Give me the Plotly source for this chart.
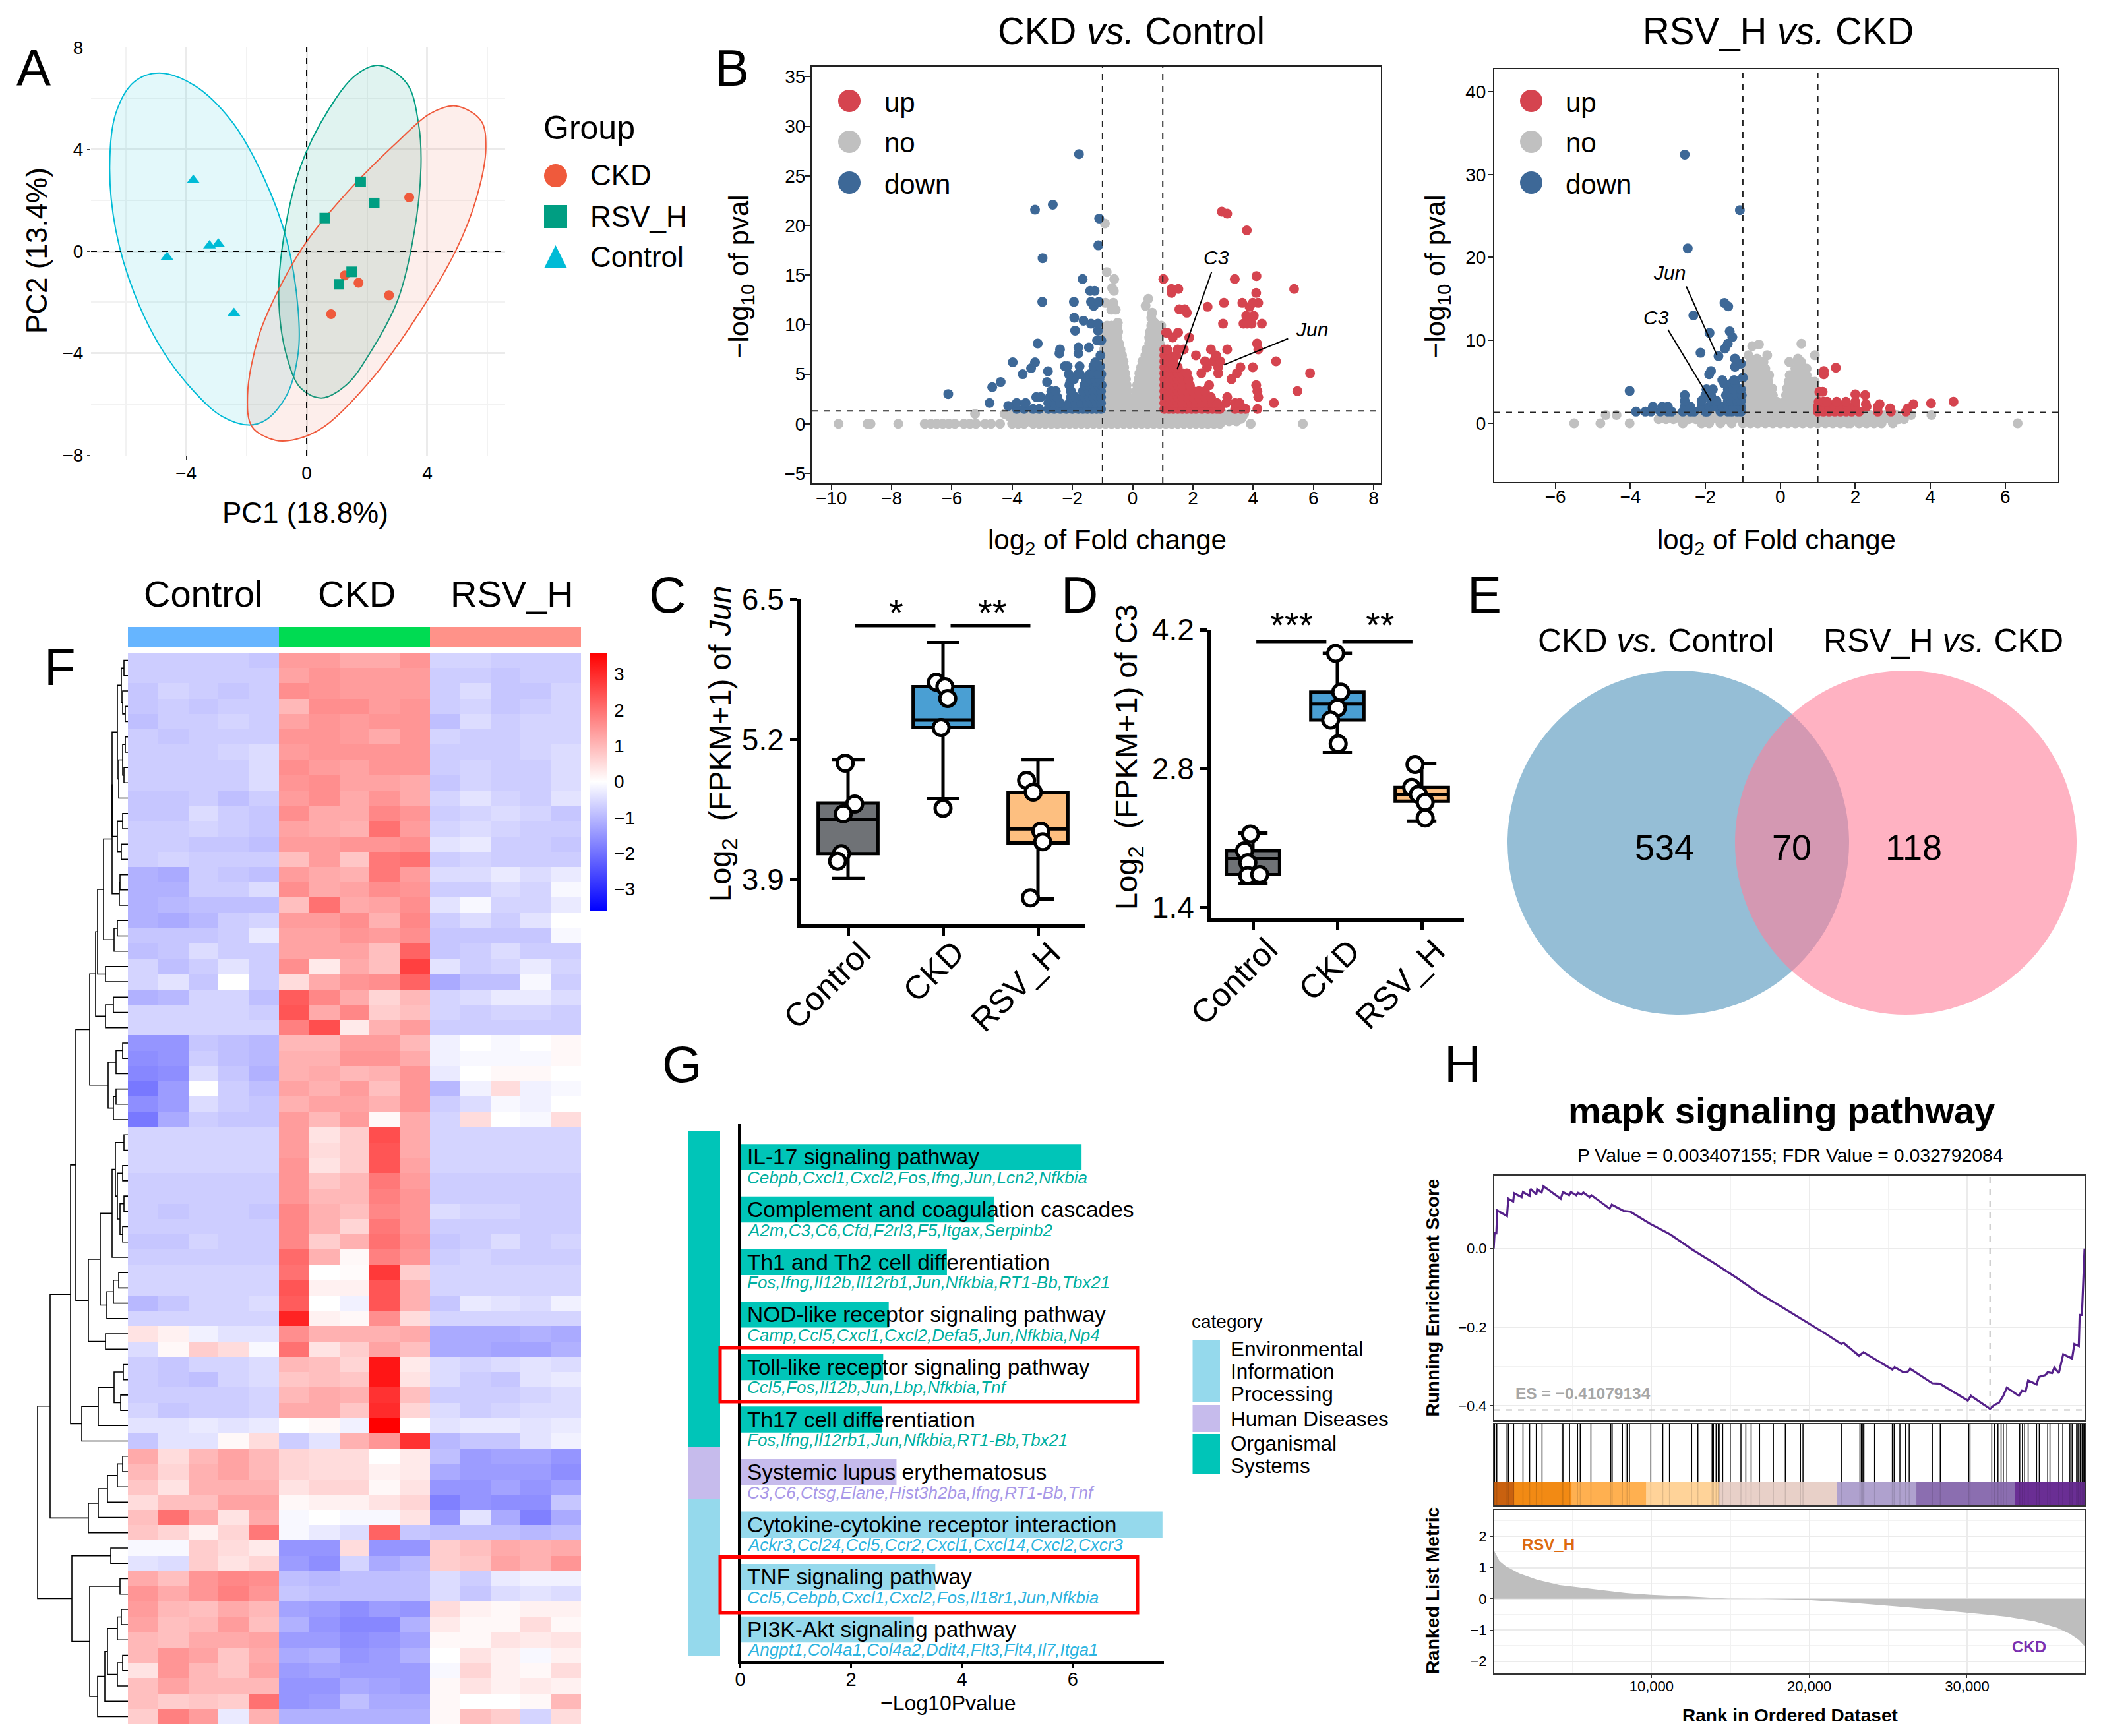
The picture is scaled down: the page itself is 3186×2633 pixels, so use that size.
import plotly.graph_objects as go

W, H = 3186, 2633
FONT = "Liberation Sans"

# ---------- Panel A: PCA ----------
ckd_pc = ([3.40, 1.26, 1.72, 2.73, 0.81], [2.11, -0.95, -1.24, -1.73, -2.47])
rsv_pc = ([1.79, 2.24, 0.60, 1.49, 1.07], [2.72, 1.89, 1.30, -0.81, -1.30])
ctl_pc = ([-3.76, -3.22, -2.93, -4.63, -2.41], [2.79, 0.22, 0.29, -0.23, -2.43])
ell_ctl_x = [-4.88, -3.73, -2.5, -1.43, -0.66, -0.28, -0.28, -0.66, -1.35, -1.93, -2.81, -3.73, -4.8, -5.72, -6.33, -6.53, -6.33, -5.72, -4.88]
ell_ctl_y = [6.99, 6.51, 5.12, 2.91, 0.43, -2.33, -3.99, -5.65, -6.62, -6.82, -6.48, -5.51, -3.85, -1.64, 0.84, 3.33, 5.4, 6.64, 6.99]
ell_rsv_x = [2.41, 3.33, 3.71, 3.79, 3.56, 3.02, 2.10, 1.33, 0.49, -0.2, -0.66, -0.92, -0.81, -0.2, 0.72, 1.64, 2.41]
ell_rsv_y = [7.29, 6.57, 4.99, 3.33, 0.70, -1.92, -3.99, -5.23, -5.76, -5.37, -4.13, -2.06, 0.15, 3.33, 5.54, 6.92, 7.29]
ell_ckd_x = [4.94, 5.78, 5.94, 5.63, 4.94, 3.63, 2.10, 0.57, -0.35, -1.04, -1.81, -1.96, -1.58, -0.81, 0.03, 1.49, 3.02, 4.09, 4.94]
ell_ckd_y = [5.70, 5.12, 4.02, 2.09, 0.01, -2.61, -5.10, -6.89, -7.38, -7.42, -6.89, -5.65, -3.30, -1.23, 0.43, 2.5, 4.30, 5.4, 5.70]
group_names = ["CKD", "RSV_H", "Control"]
group_colors = ["#EF5A3C", "#009E82", "#00BBD6"]

# ---------- Panel B: volcano plots (rows of y -> x values) ----------
b1_no = [
 (0.0, [-9.76,-8.8,-8.7,-7.78,-6.9,-6.7,-6.5,-6.3,-6.1,-5.9,-5.6,-5.4,-5.2,-4.9,-4.7,-4.4,-4.0,-3.8,-3.6,-3.3,-3.1,-2.9,-2.7,-2.5,-2.3,-2.1,-1.9,-1.7,-1.5,-1.3,-1.1,-.9,-.7,-.5,-.3,-.1,.1,.3,.5,.7,.9,1.1,1.3,1.5,1.7,1.9,2.1,2.3,2.5,2.7,2.9,3.92,5.65]),
 (0.25, [-3.8,-3.55,-3.3,-3.05,-2.8,-2.55,-2.3,-2.05,-1.8,-1.55,-1.3,-1.05,-.8,-.55,-.3,-.05,.2,.45,.7,.95,1.2,1.45,1.7,1.95,2.2,2.45,2.7,2.95,3.2,3.45]),
 (0.5, [-3.9,-3.65,-3.4,-3.15,-2.9,-2.65,-2.4,-2.15,-1.9,-1.65,-1.4,-1.15,-.9,-.65,-.4,-.15,.1,.35,.6,.85,1.1,1.35,1.6,1.85,2.1,2.35,2.6,2.85,3.1,3.35,3.6]),
 (0.75, [-4.1,-3.85,-3.6,-3.35,-3.1,-2.85,-2.6,-2.35,-2.1,-1.85,-1.6,-1.35,-1.1,-.85,-.6,-.35,-.1,.15,.4,.65,.9,1.15,1.4,1.65,1.9,2.15,2.4,2.65,2.9,3.15,3.4,3.65]),
 (1.0, [-4.25,-4.0,-3.75,-3.5,-3.25,-3.0,-2.75,-2.5,-2.25,-2.0,-1.75,-1.5,-1.25,-1.0,-.75,-.5,-.25,0,.25,.5,.75,1.0,1.25,1.5,1.75,2.0,2.25,2.5,2.75,3.0,3.25,3.5,3.7,-5.23]),
 (1.5, [-.95,-.75,-.55,-.35,-.15,-.02,.02,.1,.3,.5,.7,.9]),
 (2.1, [-.95,-.75,-.55,-.35,-.2,-.08,.08,.25,.45,.65,.85,.97]),
 (2.7, [-.95,-.75,-.55,-.35,-.15,.1,.3,.5,.7,.9]),
 (3.3, [-.95,-.75,-.55,-.35,-.18,.12,.3,.5,.7,.9]),
 (3.9, [-.95,-.75,-.55,-.35,-.2,.15,.3,.5,.7,.9]),
 (4.5, [-.95,-.75,-.55,-.35,-.22,.2,.35,.55,.75,.92]),
 (5.1, [-.95,-.75,-.55,-.35,-.25,.22,.4,.6,.8,.95]),
 (5.7, [-.95,-.75,-.55,-.38,-.28,.28,.45,.65,.85]),
 (6.3, [-.95,-.75,-.55,-.38,-.3,.32,.5,.7,.9]),
 (6.9, [-.95,-.75,-.55,-.35,.42,.6,.8,.95]),
 (7.5, [-.95,-.75,-.55,-.4,.45,.65,.85]),
 (8.1, [-.95,-.75,-.55,-.45,.55,.72,.9]),
 (8.7, [-.95,-.8,-.65,-.5,.55,.7,.88]),
 (9.3, [-.9,-.75,-.6,-.48,.58,.75,.92]),
 (9.9, [-.85,-.7,-.5,.62,.8,.95]),
 (10.2, [-.49,.72]), (10.7, [.62]), (11.2, [.65]), (11.5, [-.56,-.71]), (11.9, [.43]),
 (12.2, [-.9,-.64]), (12.6, [.52]), (13.4, [-.62]), (13.7, [-.68]), (14.6, [-.61]), (15.3, [-.86]), (20.2, [-.92]),
]
b1_down = [
 (1.5, [-3.85,-3.6,-3.3,-3.1,-2.8,-2.6,-2.4,-2.2,-2.0,-1.8,-1.65,-1.5,-1.35,-1.2,-1.05]),
 (2.1, [-4.75,-3.85,-3.55,-2.8,-2.6,-2.4,-2.1,-1.9,-1.7,-1.5,-1.35,-1.2,-1.05]),
 (1.8, [-4.13]),
 (2.7, [-3.2,-3.05,-2.75,-2.6,-2.5,-2.05,-1.9,-1.6,-1.45,-1.3,-1.15,-1.05]),
 (3.0, [-6.12]),
 (3.3, [-2.7,-2.55,-2.05,-1.65,-1.45,-1.3,-1.15,-1.05]),
 (3.7, [-4.66]), (3.9, [-2.1,-1.6,-1.45,-1.3,-1.15,-1.03]),
 (4.2, [-4.38,-2.84,-2.07,-1.55,-1.23]), (4.5, [-1.95,-1.55,-1.4,-1.25,-1.1]),
 (5.0, [-3.65,-1.82,-2.12,-1.42,-1.04,-1.75,-1.3,-1.15]), (5.3, [-2.81]), (5.6, [-3.37]),
 (5.8, [-2.25,-2.16,-1.76,-1.3,-1.08]), (6.2, [-3.98,-3.24,-1.24]), (6.9, [-1.07]),
 (7.1, [-2.43,-1.8]), (7.5, [-2.41]), (7.7, [-1.8,-1.45]), (8.1, [-3.15]), (8.4, [-1.18,-1.04]),
 (9.4, [-1.91,-1.15]), (10.1, [-1.38,-1.15]), (10.4, [-1.63]), (10.7, [-1.94]), (11.9, [-1.29]),
 (12.3, [-3.0,-1.95,-1.38,-1.12]), (13.4, [-1.41,-1.26]), (14.6, [-1.66]), (16.7, [-2.99]),
 (18.0, [-1.14]), (20.7, [-1.11]), (21.6, [-3.24]), (22.1, [-2.65]), (27.2, [-1.78]),
]
b1_up = [
 (1.5, [1.05,1.2,1.35,1.5,1.65,1.8,1.95,2.1,2.3,2.5,2.65,2.8,2.9,3.4,3.6,3.75,4.14]),
 (2.1, [1.05,1.2,1.35,1.5,1.65,1.8,1.95,2.1,2.3,2.5,2.65,2.8,3.1,3.4,3.55,4.69]),
 (2.7, [1.05,1.2,1.35,1.5,1.65,1.8,2.0,2.2,2.4,2.6,3.14,4.17]),
 (3.3, [1.05,1.2,1.35,1.5,1.65,1.8,2.0,2.2,2.4,4.14,5.47]),
 (3.9, [1.05,1.2,1.35,1.5,1.65,1.9,2.54,4.1]),
 (4.5, [1.05,1.2,1.35,1.5,1.65,1.85,3.28]),
 (5.1, [1.05,1.2,1.35,1.5,1.65,1.8,2.28,2.84,3.46,5.89]),
 (5.7, [1.05,1.2,1.35,1.5,2.47,2.84,3.58,3.99]),
 (6.3, [1.05,1.2,1.35,2.4,2.69,2.91,4.76]),
 (6.9, [1.05,1.2,1.45,2.1,2.77]),
 (7.5, [1.05,1.15,1.5,1.7,2.6,3.14,4.17]),
 (8.1, [4.13]), (8.7, [1.33,1.88]), (9.2, [1.11,1.14,1.51]),
 (10.1, [3.0,3.68,4.29,3.95,3.8]), (10.9, [4.02,3.77]), (11.2, [1.8]), (11.55, [1.55,1.73]),
 (11.8, [2.49,3.88]), (12.2, [3.03,3.64,4.17,3.99]), (13.2, [1.29,4.1]), (13.6, [1.29,1.52,5.36]),
 (14.6, [1.02,3.39]), (14.9, [4.11]), (19.5, [3.79]), (21.2, [3.14]), (21.4, [2.96]),
]
b2_no = [
 (0.0, [-5.5,-4.8,-4.02,-2.6,-2.1,-1.9,-1.6,-1.3,-1,-.8,-.6,-.4,-.2,0,.2,.4,.6,.8,1,1.2,1.4,1.6,1.8,1.87,2.1,2.3,2.5,2.7,3.0,6.33]),
 (0.5, [-3.25,-3.05,-2.85,-2.65,-2.45,-2.25,-2.05,-1.85,-1.65,-1.45,-1.25,-1.05,-.85,-.65,-.45,-.25,-.05,.15,.35,.55,.75,.95,1.15,1.35,1.55,1.75,1.95,2.15,2.35,2.55,2.75,2.95,3.15,3.3]),
 (1.0, [-4.66,-4.37,-2.7,-2.4,-2.2,-2,-1.8,-1.6,-1.4,-1.2,-1,-.8,-.6,-.4,-.2,0,.2,.4,.6,.8,1,1.2,1.4,1.6,1.8,2,2.2,2.4,2.6,2.8,3.1,3.49,4.03]),
 (1.8, [-.95,-.8,-.65,-.5,-.35,-.2,-.06,.06,.2,.35,.5,.65,.8,.93]),
 (2.6, [-.95,-.8,-.65,-.5,-.35,-.2,-.1,.12,.25,.4,.55,.7,.85,.95]),
 (3.4, [-.95,-.8,-.65,-.5,-.35,-.2,.15,.3,.45,.6,.75,.9]),
 (4.2, [-.95,-.8,-.65,-.5,-.35,-.22,.18,.32,.47,.62,.77,.9]),
 (5.0, [-.92,-.77,-.62,-.47,-.32,.22,.37,.52,.67,.82,.92]),
 (5.8, [-.88,-.73,-.58,-.43,-.3,.25,.4,.55,.7]),
 (6.6, [-.88,-.72,-.55,-.4,.4,.55,.7]),
 (7.4, [-.8,-.65,-.45,.24,.47,.55]),
 (7.8, [.47,-.62]), (8.2, [-.85,-.35,.92]), (9.3, [-.75]), (9.5, [-.57]), (9.6, [.56]),
]
b2_down = [
 (1.4, [-3.85,-3.6,-3.45,-3.2,-3.0,-2.9,-2.6,-2.4,-2.3,-2.0,-1.95,-1.6,-1.4,-1.3,-1.15,-1.05]),
 (2.0, [-3.4,-3.15,-3.0,-2.55,-2.4,-2.1,-1.9,-1.75,-1.55,-1.4,-1.25,-1.05]),
 (2.7, [-2.55,-2.1,-1.85,-1.7,-1.4,-1.3,-1.15,-1.05]),
 (3.4, [-2.55,-2.0,-1.85,-1.45,-1.3,-1.15,-1.03]),
 (3.9, [-4.02]), (4.1, [-1.97,-1.8,-1.4,-1.25,-1.05]), (4.8, [-1.5,-1.3,-1.2]),
 (5.2, [-1.55,-1.23]), (5.5, [-1.0]), (5.9, [-1.9]), (6.3, [-1.85]), (6.8, [-1.21]), (7.2, [-1.05]),
 (7.8, [-1.21]), (8.1, [-1.65]), (8.5, [-2.13]), (9.0, [-1.48]), (9.6, [-1.4]), (10.4, [-1.28]),
 (10.9, [-1.89]), (11.1, [-1.35]), (13.0, [-2.32]), (14.1, [-1.39]), (14.5, [-1.49]),
 (21.1, [-2.47]), (25.7, [-1.08]), (32.4, [-2.55]),
]
b2_up = [
 (1.4, [1.0,1.15,1.3,1.45,1.6,1.75,1.9,2.1,2.6,2.95,3.35]),
 (1.8, [2.93,3.4]),
 (2.0, [1.0,1.15,1.3,1.45,1.6,1.8,2.0,2.3,2.6]),
 (2.3, [3.55,2.65,2.28]),
 (2.6, [1.02,1.15,1.25,1.5,1.75,2.0,4.62]),
 (2.4, [4.02]), (3.4, [2.26]), (3.5, [2.0]), (3.8, [1.04,1.13]),
 (5.9, [1.16]), (6.3, [1.16]), (6.7, [1.48]),
]
volc_names = ["up", "no", "down"]
volc_colors = ["#D5444F", "#C0C0C0", "#3D6897"]

# ---------- Panels C, D: box plots ----------
box_groups = ["Control", "CKD", "RSV_H"]
box_colors = ["#6F7276", "#4A9FD3", "#FDBF80"]
jun_q1 = [4.14, 5.31, 4.24]; jun_med = [4.46, 5.38, 4.37]; jun_q3 = [4.61, 5.69, 4.71]
jun_lo = [3.91, 4.65, 3.72]; jun_hi = [5.015, 6.10, 5.015]
jun_pts_x = [-.03,.07,-.05,-.07,-.11, .93,1.02,1.05,.98,1.0, 1.88,1.95,2.03,2.05,1.92]
jun_pts_y = [4.98,4.60,4.51,4.14,4.07, 5.73,5.69,5.58,5.31,4.56, 4.82,4.71,4.35,4.25,3.73]
c3_q1 = [1.73, 3.29, 2.47]; c3_med = [1.89, 3.45, 2.54]; c3_q3 = [1.973, 3.57, 2.61]
c3_lo = [1.64, 2.96, 2.27]; c3_hi = [2.15, 3.96, 2.85]
c3_pts_x = [-.03,-.1,-.06,-.06,.08, .98,1.04,1.0,.92,1.01, 1.92,1.88,1.96,2.04,2.04]
c3_pts_y = [2.14,1.97,1.85,1.72,1.73, 3.96,3.57,3.41,3.29,3.05, 2.84,2.61,2.54,2.46,2.30]

# ---------- Panel F: heatmap ----------
hm_rows = [
[-.7,-.7,-.7,-.7,-.8,1.4,1.4,1.2,1.2,1.5,-.6,-.6,-.7,-.7,-.7],
[-.7,-.7,-.7,-.7,-.7,1.3,1.5,1.4,1.4,1.4,-.7,-.7,-.8,-.7,-.7],
[-.8,-.6,-.7,-.8,-.7,1.6,1.5,1.4,1.4,1.4,-.7,-.5,-.8,-.8,-.6],
[-.8,-.7,-.8,-.7,-.7,1.0,1.6,1.6,1.4,1.5,-.7,-.6,-.8,-.7,-.6],
[-.9,-.7,-.7,-.6,-.7,1.3,1.5,1.4,1.5,1.5,-.9,-.5,-.7,-.6,-.6],
[-.7,-.8,-.7,-.7,-.7,1.5,1.5,1.4,1.2,1.5,-.6,-.7,-.7,-.6,-.6],
[-.7,-.7,-.7,-.6,-.5,1.4,1.5,1.5,1.5,1.5,-.7,-.7,-.7,-.6,-.5],
[-.7,-.7,-.7,-.7,-.5,1.6,1.4,1.3,1.5,1.5,-.7,-.6,-.7,-.7,-.5],
[-.7,-.7,-.7,-.7,-.5,1.5,1.6,1.3,1.3,1.2,-.8,-.6,-.7,-.7,-.5],
[-.8,-.8,-.7,-.9,-.7,1.4,1.6,1.2,1.5,1.2,-.6,-.4,-.6,-.7,-.4],
[-.8,-.8,-.5,-.7,-.8,1.6,1.2,1.2,1.7,1.5,-.7,-.6,-.5,-.6,-.8],
[-.7,-.7,-.6,-.7,-.8,1.3,1.2,1.1,2.0,1.4,-.6,-.5,-.6,-.7,-.7],
[-.7,-.7,-.8,-.8,-.9,1.4,1.4,1.5,1.5,1.6,-.4,-.3,-.7,-.7,-.8],
[-.7,-.6,-.7,-.7,-.7,.9,1.4,.8,1.9,2.0,-.7,-.6,-.7,-.7,-.7],
[-1.1,-1.2,-.7,-.8,-.9,1.4,1.2,1.1,1.9,1.4,-.5,-.5,-.3,-.5,-.3],
[-1.1,-1.1,-.7,-.7,-.5,1.6,1.2,1.3,1.6,1.5,-.7,-.7,-.5,-.6,-.1],
[-1.1,-1.0,-.9,-.9,-.9,.9,2.0,1.2,1.3,1.6,-.4,-.1,-.6,-.6,-.3],
[-1.1,-1.2,-1.0,-.7,-.6,1.4,1.4,1.6,1.1,1.7,-.7,-.5,-.7,-.4,0],
[-.8,-.8,-.8,-.7,-.3,1.3,1.3,1.5,1.4,1.6,-.8,-.8,-.8,-.8,-.1],
[-.9,-.8,-.5,-.7,-.7,1.3,1.3,1.3,.9,2.2,-.8,-.7,-.5,-.7,-.7],
[-.6,-.9,-.7,-.4,-.7,1.6,.3,1.2,.9,2.7,-.4,-.7,-.6,-.3,-.6],
[-.6,-.4,-.8,0,-.7,.5,1.2,1.5,1.6,2.2,-1.2,-.9,-.9,-.1,-.7],
[-1.1,-1.0,-.6,-.6,-.9,2.3,1.7,1.2,.6,1.0,-.6,-.5,-.3,-.3,-.5],
[-.6,-.6,-.6,-.6,-.7,2.4,1.2,1.7,.7,.9,-.6,-.7,-.6,-.6,-.7],
[-.6,-.6,-.6,-.6,-.6,1.8,2.5,.3,1.1,1.4,-.7,-.7,-.7,-.7,-.7],
[-1.5,-1.5,-.8,-.9,-1.0,1.0,1.0,1.4,1.4,1.0,-.2,0,-.1,0,.1],
[-1.6,-1.5,-.7,-.9,-1.0,1.1,1.1,1.5,1.5,1.2,-.2,-.1,-.1,-.1,.1],
[-1.7,-1.6,-.5,-.8,-1.1,1.1,1.2,1.0,1.1,1.5,-.3,0,.1,.1,0],
[-1.9,-1.4,0,-.7,-.9,1.3,1.1,1.4,.9,1.5,-1.0,-.2,.5,-.2,-.1],
[-1.6,-1.4,-.5,-.7,-.8,1.1,1.3,1.3,1.1,1.5,-.7,-.5,-.1,-.2,0],
[-1.9,-1.2,-.7,-.8,-.8,1.4,1.0,1.4,.1,1.2,-.6,.5,0,-.1,.5],
[-.6,-.6,-.6,-.6,-.6,1.4,.4,.7,2.5,1.2,-.6,-.6,-.6,-.6,-.6],
[-.6,-.6,-.6,-.6,-.6,1.4,.5,.7,2.4,1.2,-.6,-.6,-.6,-.6,-.6],
[-.6,-.6,-.6,-.6,-.6,1.5,.4,.7,2.4,1.3,-.6,-.6,-.6,-.6,-.6],
[-.7,-.7,-.7,-.7,-.7,1.5,.8,1.0,1.9,1.4,-.7,-.7,-.7,-.7,-.7],
[-.7,-.7,-.7,-.7,-.7,1.5,1.0,1.0,1.8,1.5,-.7,-.7,-.7,-.7,-.7],
[-.7,-.8,-.7,-.7,-.8,1.7,1.1,.9,1.7,1.5,-.5,-.6,-.6,-.7,-.7],
[-.7,-.7,-.7,-.7,-.7,1.7,1.1,.6,1.9,1.5,-.7,-.7,-.7,-.7,-.7],
[-.8,-.8,-.6,-.7,-.7,1.7,.7,1.1,2.0,1.6,-.8,-.7,-.5,-.7,-.6],
[-.7,-.7,-.7,-.7,-.7,2.1,1.1,.1,1.8,1.5,-.7,-.6,-.7,-.7,-.7],
[-.6,-.6,-.6,-.6,-.6,2.0,0,.05,2.8,.7,-.6,-.6,-.6,-.6,-.6],
[-.6,-.6,-.6,-.6,-.6,2.4,.2,.2,2.4,1.1,-.6,-.6,-.6,-.6,-.6],
[-1.0,-.8,-.6,-.6,-.5,2.3,0,-.2,2.4,1.1,-.8,-.3,-.4,-.5,-.2],
[-.6,-.6,-.6,-.6,-.6,3.1,.2,.1,1.6,.5,-.6,-.6,-.6,-.6,-.6],
[.4,.2,-.2,-.4,-.4,1.6,1.1,1.1,1.1,1.2,-1.2,-1.2,-1.2,-1.1,-1.2],
[-.5,.1,.7,.5,-.1,2.0,.4,.7,1.3,.9,-1.2,-1.2,-1.3,-1.3,-1.1],
[-.7,-.8,-.6,-.6,-.5,1.0,.9,.6,3.3,.3,-.5,-.6,-.5,-.4,-.5],
[-.7,-.8,-.9,-.6,-.5,.8,.9,.8,3.3,.4,-.5,-.7,-.8,-.4,-.3],
[-.7,-.7,-.7,-.7,-.6,1.0,1.2,1.1,2.9,.9,-.7,-.7,-.7,-.6,-.5],
[-.6,-.8,-.7,-.7,-.6,1.2,1.2,.8,3.0,.6,-.5,-.7,-.6,-.5,-.5],
[-.4,-.4,-.3,-.4,-.3,0,.1,-.2,3.6,0,-.4,-.3,-.3,-.4,-.3],
[-.8,-.4,-.4,.1,.5,-.7,-.4,1.1,1.5,2.9,-1.0,-.8,-.8,-.4,-.2],
[1.2,.5,1.0,1.3,1.0,.6,.5,.5,0,.3,-.9,-1.4,-1.3,-1.3,-1.5],
[1.0,.6,1.1,1.3,1.0,.6,.5,.5,.2,.3,-1.2,-1.4,-1.4,-1.4,-1.6],
[.8,.4,1.1,1.1,1.1,.4,.6,.6,.1,.4,-1.5,-1.5,-1.3,-1.5,-1.3],
[.5,.9,.9,1.3,1.3,.1,.2,.2,.4,.6,-1.8,-1.5,-1.6,-1.6,-.8],
[.9,2.0,1.2,.4,1.2,-.1,0,-.1,-.1,.4,-1.5,-.4,-1.2,-1.8,-1.2],
[.8,.6,.2,.6,1.9,-.1,-.3,-.5,2.2,-.8,-.9,-.9,-.9,-1,-.9],
[-.1,-.1,.7,.5,.3,-1.5,-1.5,.5,-1.5,-1.5,.7,.9,1.2,1.1,1.2],
[-.4,-.5,.7,.4,.6,-1.4,-1.6,-.6,-1.2,-1.0,.7,.8,1.3,1.1,1.5],
[1.2,.9,1.5,1.7,1.6,-.9,-1.0,-.9,-.9,-.9,-.5,-.7,-.3,-.2,-.2],
[1.5,1.2,1.5,1.8,1.5,-.8,-.9,-.9,-.9,-.9,-.5,-.8,-.5,-.4,-.5],
[1.4,1.0,.9,1.2,1.0,-1.3,-1.4,-1.6,-1.4,-1.5,.5,.2,.1,.2,.2],
[1.3,.9,1.0,1.4,.9,-1.1,-1.5,-1.7,-1.7,-1.1,.3,.1,.1,.5,.1],
[1.0,.9,1.2,1.2,1.3,-1.4,-1.4,-1.6,-1.5,-1.3,.1,.1,.4,.3,.4],
[1.0,1.5,1.3,.8,1.2,-1.2,-1.1,-1.5,-1.4,-1.1,0,.4,.2,-.1,.2],
[.4,1.5,1.0,.8,1.3,-1.4,-1.3,-1.4,-1.4,-1.4,-.1,.6,.2,.1,.5],
[.9,1.3,1.0,1.0,1.0,-1.5,-1.5,-1.2,-1.3,-1.4,.1,.4,.2,.3,.2],
[.9,.7,.8,.7,2.0,-1.5,-1.4,-.9,-1.2,-1.2,.1,0,0,.1,1.0],
[.7,1.8,1.4,-.3,1.1,-1.1,-1.1,-1.1,-1.1,-1.1,.1,.9,.7,-.6,.5],
]
sample_group = [[0,0,0,0,0,1,1,1,1,1,2,2,2,2,2]]
sample_colors = ["#66B5FF", "#00DB52", "#FF9289"]
# dendrogram: (merge height, child, child); integer child = row
d_a = (170,(178,(184,(188,0,1),(186,2,(190,3,4))),(180,(186,(190,5,6),(188,7,8)),9)),(178,(186,10,11),(184,12,13)))
d_b = (170,d_a,(181,(182,14,15),16))
d_c = (157,d_b,(173,(178,17,18),19))
d_d = (148,d_c,(160,20,21))
d_e = (145,d_d,(160,(172,22,23),24))
d_f = (164,(176,(186,25,26),27),(172,(176,28,29),30))
d_g = (136,d_e,d_f)
d_h = (170,(175,(188,31,32),(178,(186,33,34),(182,(188,35,36),(186,37,38)))),39)
d_i = (152,d_h,(162,(172,(180,40,41),42),43))
d_j = (134,d_i,(160,44,45))
d_k = (124,(149,(173,(187,46,47),(183,48,49)),50),51)
d_l = (107,(115,d_g,d_j),d_k)
d_m = (134,(149,(163,(178,(186,52,53),54),55),56),57)
d_n = (136,(182,60,61),(148,(159,(163,(178,(184,62,63),64),(178,(186,65,66),67)),68),69))
dendro = (57,(76,d_l,d_m),(109,(168,58,59),d_n))

# ---------- Panel G: enrichment bars ----------
path_names = ["IL-17 signaling pathway","Complement and coagulation cascades","Th1 and Th2 cell differentiation",
 "NOD-like receptor signaling pathway","Toll-like receptor signaling pathway","Th17 cell differentiation",
 "Systemic lupus erythematosus","Cytokine-cytokine receptor interaction","TNF signaling pathway","PI3K-Akt signaling pathway"]
path_genes = ["Cebpb,Cxcl1,Cxcl2,Fos,Ifng,Jun,Lcn2,Nfkbia","A2m,C3,C6,Cfd,F2rl3,F5,Itgax,Serpinb2",
 "Fos,Ifng,Il12b,Il12rb1,Jun,Nfkbia,RT1-Bb,Tbx21","Camp,Ccl5,Cxcl1,Cxcl2,Defa5,Jun,Nfkbia,Np4",
 "Ccl5,Fos,Il12b,Jun,Lbp,Nfkbia,Tnf","Fos,Ifng,Il12rb1,Jun,Nfkbia,RT1-Bb,Tbx21",
 "C3,C6,Ctsg,Elane,Hist3h2ba,Ifng,RT1-Bb,Tnf","Ackr3,Ccl24,Ccl5,Ccr2,Cxcl1,Cxcl14,Cxcl2,Cxcr3",
 "Ccl5,Cebpb,Cxcl1,Cxcl2,Fos,Il18r1,Jun,Nfkbia","Angpt1,Col4a1,Col4a2,Ddit4,Flt3,Flt4,Il7,Itga1"]
path_values = [6.16,4.58,3.73,2.68,2.58,2.56,2.82,7.62,3.52,3.13]
path_cat = [2,2,2,2,2,2,1,0,0,0]
cat_colors = ["#95D9EC","#C6BBEC","#00C5B8"]
cat_text = ["#2DB4E0","#A898E8","#00AFA0"]

# ---------- Panel H: GSEA ----------
es_rank = [0,56,169,225,844,928,1238,1294,1772,1857,2279,2335,2700,2757,3038,3151,4248,4388,4782,4895,5232,5345,5570,5683,6076,6189,7342,7483,8243,8664,9874,11196,12602,14009,15415,16822,18228,19635,21041,22026,22166,23151,23432,24136,25261,25402,25964,26245,26386,27793,28271,30043,30240,31450,31731,32012,32293,32518,33278,33475,33700,33868,34403,34544,34965,35106,35388,35528,35810,36091,36653,36794,37076,37132,37273,37357,37441]
es_val = [0,.039,.039,.097,.083,.127,.12,.141,.131,.144,.134,.152,.138,.151,.143,.159,.127,.144,.136,.144,.136,.142,.138,.143,.131,.136,.102,.112,.096,.094,.064,.036,-.003,-.038,-.075,-.114,-.148,-.182,-.217,-.243,-.24,-.273,-.264,-.281,-.308,-.302,-.315,-.313,-.306,-.343,-.344,-.387,-.375,-.408,-.398,-.393,-.375,-.354,-.375,-.362,-.364,-.336,-.346,-.327,-.322,-.315,-.317,-.303,-.317,-.269,-.28,-.243,-.248,-.169,-.169,-.085,0]
hit_ranks = [56,197,844,928,1266,1857,2279,2700,3066,4332,4388,4810,5317,5485,6160,7426,7511,8158,8383,8467,8608,9958,10718,11140,12546,12940,13840,13924,14093,14234,14290,14515,14993,15668,15978,16315,16850,17722,18481,19438,19550,19635,22026,23207,23292,23348,23404,23460,24136,25261,25373,25739,26105,26330,27793,28299,30099,30184,31562,31731,31956,32153,32293,32518,33334,33503,33643,33868,34403,34572,35106,35247,35810,36063,36513,36653,36935,37020,37076,37160,37217,37301,37357,37413]
band_edges = [0,1294,4951,9649,14234,21745,26780,33000,37441]
band_colors = ["#C9610F","#F28A14","#FFB050","#FFD399","#E8D0C8","#AFA1CE","#8B6EB0","#6A2E94"]
metric_rank = [0,28,366,788,1632,2757,4163,5570,6976,8383,9958,12602,14853,16822,19635,22448,25261,28074,30887,32575,34263,35669,36513,37076,37441]
metric_val = [1.94,1.54,1.21,1.04,.81,.61,.44,.35,.27,.19,.13,.07,.01,0,-.03,-.12,-.23,-.35,-.49,-.58,-.72,-.92,-1.12,-1.32,-1.52]

# ---------- helpers ----------
fig = go.Figure()
annots, shapes, layout = [], [], {}
GRID = "#EBEBEB"

def axes(n, box, xkw=None, ykw=None):
    x0, x1, y0, y1 = box
    sfx = "" if n == 1 else str(n)
    base = dict(automargin=False, zeroline=False, showgrid=False)
    layout["xaxis" + sfx] = {**base, "domain": [x0 / W, x1 / W], "anchor": "y" + sfx, **(xkw or {})}
    layout["yaxis" + sfx] = {**base, "domain": [1 - y1 / H, 1 - y0 / H], "anchor": "x" + sfx, **(ykw or {})}

def ref(n):
    return ("x", "y") if n == 1 else (f"x{n}", f"y{n}")

def add(trace, n):
    xr, yr = ref(n)
    trace.update(xaxis=xr, yaxis=yr, showlegend=False, hoverinfo="skip")
    fig.add_trace(trace)

def T(x, y, text, size, anchor="center", color="black", angle=0):
    annots.append(dict(x=x / W, y=1 - y / H, xref="paper", yref="paper", text=text, showarrow=False,
                       xanchor=anchor, yanchor="middle", textangle=angle,
                       font=dict(size=size, color=color, family=FONT)))

def D(n, x, y, text, size, anchor="center", color="black"):
    xr, yr = ref(n)
    annots.append(dict(x=x, y=y, xref=xr, yref=yr, text=text, showarrow=False, xanchor=anchor, yanchor="middle",
                       font=dict(size=size, color=color, family=FONT)))

def pshape(kind, x0, y0, x1, y1, fill=None, line=None, lw=0, opacity=1):
    shapes.append(dict(type=kind, xref="paper", yref="paper", x0=x0 / W, x1=x1 / W, y0=1 - y0 / H, y1=1 - y1 / H,
                       fillcolor=fill, opacity=opacity, line=dict(color=line or "rgba(0,0,0,0)", width=lw)))

def vline(n, x, color="black", dash="dash", w=2):
    xr, yr = ref(n)
    shapes.append(dict(type="line", xref=xr, yref=yr + " domain", x0=x, x1=x, y0=0, y1=1, line=dict(color=color, dash=dash, width=w)))

def hline(n, y, color="black", dash="dash", w=2):
    xr, yr = ref(n)
    shapes.append(dict(type="line", xref=xr + " domain", yref=yr, x0=0, x1=1, y0=y, y1=y, line=dict(color=color, dash=dash, width=w)))

def flat(rows):
    xs, ys = [], []
    for y, vals in rows:
        for v in vals:
            xs.append(v); ys.append(y)
    return xs, ys

# ---------- Panel A ----------
minor_a = dict(tickvals=[-6, -2, 2, 6], showgrid=True, gridcolor="#F2F2F2", gridwidth=1.5, ticks="")
axes(1, (138, 766, 71, 691),
     dict(range=[-7.15, 6.58], tickvals=[-4, 0, 4], showgrid=True, gridcolor=GRID, gridwidth=3, ticks="outside", ticklen=5, tickcolor="#333",
          tickfont=dict(size=28), minor=minor_a, ticklabelstandoff=-4),
     dict(range=[-8.02, 8.02], tickvals=[-8, -4, 0, 4, 8], showgrid=True, gridcolor=GRID, gridwidth=3, ticks="outside", ticklen=5, tickcolor="#333",
          tickfont=dict(size=28), minor=minor_a))
for ex, ey, c, fc in [(ell_ctl_x, ell_ctl_y, group_colors[2], "rgba(0,187,214,0.11)"),
                      (ell_rsv_x, ell_rsv_y, group_colors[1], "rgba(0,158,130,0.12)"),
                      (ell_ckd_x, ell_ckd_y, group_colors[0], "rgba(239,90,60,0.10)")]:
    add(go.Scatter(x=ex, y=ey, mode="lines", line=dict(color=c, width=2, shape="spline", smoothing=1.0), fill="toself", fillcolor=fc), 1)
vline(1, 0); hline(1, 0)
for (px, py), c, sym, sz in [(ckd_pc, group_colors[0], "circle", 15), (rsv_pc, group_colors[1], "square", 16), (ctl_pc, group_colors[2], "triangle-up", 17)]:
    add(go.Scatter(x=px, y=py, mode="markers", marker=dict(color=c, symbol=sym, size=sz)), 1)
T(463, 777, "PC1 (18.8%)", 44)
T(55, 380, "PC2 (13.4%)", 44, angle=-90)
T(893, 194, "Group", 50)
pshape("circle", 825, 249, 860, 284, fill=group_colors[0])
pshape("rect", 825, 311, 860, 346, fill=group_colors[1])
shapes.append(dict(type="path", xref="paper", yref="paper", fillcolor=group_colors[2], line=dict(width=0),
                   path=f"M {825/W} {1-407/H} L {860/W} {1-407/H} L {842.5/W} {1-372/H} Z"))
for yy, nm in zip([266, 328, 390], group_names):
    T(893, yy, nm, 44, anchor="left")

# ---------- Panel B ----------
vol = dict(showline=True, mirror=True, linecolor="#222", linewidth=2, ticks="outside", ticklen=8, tickcolor="#222", tickwidth=2, tickfont=dict(size=28))
axes(2, (1231, 2094, 101, 733), dict(range=[-10.65, 8.24], tickvals=list(range(-10, 9, 2)), ticklabelstandoff=-12, **vol),
     dict(range=[-6.0, 36.03], tickvals=list(range(-5, 36, 5)), ticklabelstandoff=-6, **vol))
axes(3, (2266, 3121, 105, 731), dict(range=[-7.63, 7.41], tickvals=list(range(-6, 7, 2)), ticklabelstandoff=-12, **vol),
     dict(range=[-7.08, 42.7], tickvals=[0, 10, 20, 30, 40], ticklabelstandoff=-3, **vol))
for n, rows_no, rows_dn, rows_up in [(2, b1_no, b1_down, b1_up), (3, b2_no, b2_down, b2_up)]:
    for rows, c in [(rows_no, volc_colors[1]), (rows_dn, volc_colors[2]), (rows_up, volc_colors[0])]:
        xs, ys = flat(rows)
        add(go.Scatter(x=xs, y=ys, mode="markers", marker=dict(color=c, size=15, line=dict(width=0))), n)
    vline(n, -1, "#222", "dash", 2); vline(n, 1, "#222", "dash", 2); hline(n, 1.3, "#222", "dash", 2)
add(go.Scatter(x=[2.62, 1.48], y=[15.3, 5.5], mode="lines", line=dict(color="black", width=2)), 2)
add(go.Scatter(x=[5.16, 3.03], y=[8.6, 5.95], mode="lines", line=dict(color="black", width=2)), 2)
add(go.Scatter(x=[-2.51, -1.69], y=[16.5, 8.2], mode="lines", line=dict(color="black", width=2)), 3)
add(go.Scatter(x=[-3.0, -1.85], y=[11.3, 2.7], mode="lines", line=dict(color="black", width=2)), 3)
D(2, 2.77, 16.8, "<i>C3</i>", 30); D(2, 5.95, 9.5, "<i>Jun</i>", 30)
D(3, -2.96, 18.2, "<i>Jun</i>", 30); D(3, -3.32, 12.8, "<i>C3</i>", 30)
T(1716, 47, "CKD <i>vs.</i> Control", 56.5); T(2696, 47, "RSV_H <i>vs.</i> CKD", 56.5)
T(1679, 821, "log<sub>2</sub> of Fold change", 42); T(2694, 821, "log<sub>2</sub> of Fold change", 42)
T(1124, 420, "−log<sub>10</sub> of pval", 42, angle=-90); T(2180, 420, "−log<sub>10</sub> of pval", 42, angle=-90)
for cx, tx in [(1288, 1339), (2322, 2372)]:
    for yy, nm, c in zip([153, 215, 277], volc_names, volc_colors):
        pshape("circle", cx - 17, yy - 17, cx + 17, yy + 17, fill=c)
        T(tx, yy + 2, nm, 42, anchor="left")

# ---------- Panels C, D ----------
box_x = dict(range=[-0.5, 2.5], tickvals=[0, 1, 2], showticklabels=False, showline=True, linecolor="black",
             linewidth=6, ticks="outside", ticklen=12, tickwidth=5, tickcolor="black")
box_y = dict(showline=True, linecolor="black", linewidth=6, ticks="outside", ticklen=10, tickwidth=5, tickcolor="black", tickfont=dict(size=46))
axes(4, (1214, 1646, 909, 1401), box_x, dict(range=[3.49, 6.5], tickvals=[3.9, 5.2, 6.5], ticktext=["3.9", "5.2", "6.5"], **box_y))
axes(5, (1836, 2220, 955, 1392), box_x, dict(range=[1.295, 4.2], tickvals=[1.4, 2.8, 4.2], ticktext=["1.4", "2.8", "4.2"], **box_y))
for n, q1, med, q3, lo, hi, px, py in [(4, jun_q1, jun_med, jun_q3, jun_lo, jun_hi, jun_pts_x, jun_pts_y),
                                       (5, c3_q1, c3_med, c3_q3, c3_lo, c3_hi, c3_pts_x, c3_pts_y)]:
    for i in range(3):
        add(go.Box(x=[i], q1=[q1[i]], median=[med[i]], q3=[q3[i]], lowerfence=[lo[i]], upperfence=[hi[i]], width=0.63,
                   fillcolor=box_colors[i], line=dict(color="black", width=5), whiskerwidth=0.55, boxpoints=False), n)
    add(go.Scatter(x=px, y=py, mode="markers", marker=dict(color="white", size=24, line=dict(color="black", width=5))), n)
for n, a, b, yy in [(4, (.075, .92), (1.08, 1.92), 6.256), (5, (.04, .87), (1.06, 1.89), 4.08)]:
    add(go.Scatter(x=list(a), y=[yy, yy], mode="lines", line=dict(color="black", width=5), cliponaxis=False), n)
    add(go.Scatter(x=list(b), y=[yy, yy], mode="lines", line=dict(color="black", width=5), cliponaxis=False), n)
T(1359, 928, "*", 56); T(1505, 928, "**", 56)
T(1958, 948, "***", 56); T(2093, 948, "**", 56)
for (x, y), g in zip([(1254, 1495), (1416, 1473), (1540, 1497)], box_groups):
    T(x, y, g, 50, angle=-45)
for (x, y), g in zip([(1871, 1489), (2016, 1471), (2123, 1493)], box_groups):
    T(x, y, g, 50, angle=-45)
T(1095, 1129, "Log<sub>2</sub>&nbsp; (FPKM+1) of <i>Jun</i>", 47, angle=-90)
T(1711, 1148, "Log<sub>2</sub>&nbsp; (FPKM+1) of C3", 47, angle=-90)

# ---------- Panel E ----------
pshape("circle", 2286, 1017, 2804, 1539, fill="#4F93BA", opacity=0.6)
pshape("circle", 2631, 1017, 3149, 1539, fill="#FF7F9A", opacity=0.6)
T(2524, 1285, "534", 54); T(2717, 1285, "70", 54); T(2902, 1285, "118", 54)
T(2511, 972, "CKD <i>vs.</i> Control", 50); T(2947, 972, "RSV_H <i>vs.</i> CKD", 50)

# ---------- Panel F ----------
hid = dict(visible=False)
axes(6, (194, 881, 990, 2615), dict(range=[-0.5, 14.5], **hid), dict(range=[69.5, -0.5], **hid))
axes(7, (194, 881, 951, 982), dict(range=[-0.5, 14.5], **hid), dict(range=[-0.5, 0.5], **hid))
axes(8, (40, 194, 990, 2615), dict(range=[40, 194], **hid), dict(range=[70, 0], **hid))
add(go.Heatmap(z=hm_rows, zmin=-3.6, zmax=3.6, colorscale=[[0, "#0000FF"], [0.5, "#FFFFFF"], [1, "#FF0000"]], xgap=0, ygap=0,
               colorbar=dict(x=895 / W, xanchor="left", xpad=0, y=1 - 1381 / H, yanchor="bottom", ypad=0, len=391 / H, thickness=25,
                             outlinewidth=0, ticks="outside", ticklen=6, tickcolor="white", tickvals=[-3, -2, -1, 0, 1, 2, 3], tickfont=dict(size=28, family=FONT))), 6)
add(go.Heatmap(z=sample_group, zmin=0, zmax=2, showscale=False,
               colorscale=[[0, sample_colors[0]], [0.5, sample_colors[1]], [1, sample_colors[2]]]), 7)
dx, dy = [], []
def walk(node):
    if isinstance(node, int):
        return 194, node + 0.5
    h, a, b = node
    xa, ya = walk(a); xb, yb = walk(b)
    dx.extend([xa, h, h, xb, None]); dy.extend([ya, ya, yb, yb, None])
    return h, (ya + yb) / 2
walk(dendro)
add(go.Scatter(x=dx, y=dy, mode="lines", line=dict(color="black", width=1.6), connectgaps=False), 8)
T(308, 900, "Control", 56); T(541, 900, "CKD", 56); T(776, 900, "RSV_H", 56)

# ---------- Panel G ----------
axes(9, (1122.5, 1764.5, 1705, 2520),
     dict(range=[0, 7.64], tickvals=[0, 2, 4, 6], showline=True, linecolor="black", linewidth=4, ticks="outside", ticklen=6, tickwidth=3, tickcolor="black", tickfont=dict(size=29), ticklabelstandoff=-8),
     dict(range=[9.61, -0.628], showline=True, linecolor="black", linewidth=4, showticklabels=False, ticks=""))
axes(10, (1044, 1092, 1716, 2512), dict(range=[-0.5, 0.5], **hid), dict(range=[9.5, -0.5], **hid))
add(go.Bar(x=path_values, y=list(range(10)), orientation="h", width=0.496, marker=dict(color=[cat_colors[c] for c in path_cat], line=dict(width=0))), 9)
add(go.Heatmap(z=[[c] for c in path_cat], zmin=0, zmax=2, showscale=False,
               colorscale=[[0, cat_colors[0]], [0.5, cat_colors[1]], [1, cat_colors[2]]]), 10)
for i, (nm, gn, c) in enumerate(zip(path_names, path_genes, path_cat)):
    D(9, 0.10, i, nm, 33.5, anchor="left")
    D(9, 0.10, i + 0.39, f"<i>{gn}</i>", 26, anchor="left", color=cat_text[c])
pshape("rect", 1092, 2044, 1725, 2126, line="#FF0000", lw=5)
pshape("rect", 1092, 2361.5, 1725, 2446, line="#FF0000", lw=5)
T(1438, 2583, "−Log10Pvalue", 32)
T(1805, 2004, "category", 28, anchor="left")
pshape("rect", 1808.5, 2032.5, 1850, 2126.5, fill=cat_colors[0])
pshape("rect", 1808.5, 2131, 1850, 2172, fill=cat_colors[1])
pshape("rect", 1808.5, 2175, 1850, 2235, fill=cat_colors[2])
for yy, s in [(2046, "Environmental"), (2080, "Information"), (2114, "Processing"), (2151.6, "Human Diseases"), (2189, "Organismal"), (2223, "Systems")]:
    T(1864.5, yy, s, 31.5, anchor="left")

# ---------- Panel H ----------
fr = dict(showline=True, mirror=True, linecolor="#333", linewidth=2)
gx = dict(range=[40, 37480], tickvals=[10000, 20000, 30000], showgrid=True, gridcolor=GRID, gridwidth=2,
          minor=dict(dtick=5000, showgrid=True, gridcolor="#F2F2F2", gridwidth=1, ticks=""), **fr)
axes(11, (2266, 3162, 1783, 2154), dict(showticklabels=False, ticks="", **gx),
     dict(range=[-.437, .186], tickvals=[0, -.2, -.4], ticktext=["0.0", "−0.2", "−0.4"], showgrid=True, gridcolor=GRID, gridwidth=2, ticks="outside", ticklen=5,
          tickcolor="#333", tickfont=dict(size=22), minor=dict(tickvals=[-.3, -.1, .1], showgrid=True, gridcolor="#F2F2F2", gridwidth=1, ticks=""), **fr))
axes(12, (2266, 3162, 2160, 2283), dict(range=[40, 37480], showticklabels=False, ticks="", **fr), dict(range=[0, 1], showticklabels=False, ticks="", **fr))
axes(13, (2266, 3162, 2289.5, 2538), dict(ticks="outside", ticklen=5, tickcolor="#333", tickformat=",", tickfont=dict(size=22), ticklabelstandoff=-6, **gx),
     dict(range=[-2.39, 2.86], tickvals=[-2, -1, 0, 1, 2], showgrid=True, gridcolor=GRID, gridwidth=2, ticks="outside", ticklen=5, tickcolor="#333", tickfont=dict(size=22),
          minor=dict(tickvals=[-1.5, -.5, .5, 1.5, 2.5], showgrid=True, gridcolor="#F2F2F2", gridwidth=1, ticks=""), **fr))
add(go.Scatter(x=es_rank, y=es_val, mode="lines", line=dict(color="#55218A", width=3.2)), 11)
vline(11, 31450, "#BDBDBD", "dash", 2); hline(11, -0.4108, "#BDBDBD", "dash", 2)
D(11, 1290, -0.369, "<b>ES = −0.41079134</b>", 24.5, anchor="left", color="#A6A6A6")
nb = len(band_colors)
add(go.Heatmap(x=band_edges, y=[0, 0.29], z=[list(range(nb))], zmin=0, zmax=nb - 1, showscale=False,
               colorscale=[[i / (nb - 1), c] for i, c in enumerate(band_colors)]), 12)
hx, hy, bx, by = [], [], [], []
for r in hit_ranks:
    hx += [r, r, None]; hy += [0.29, 1, None]
    bx += [r, r, None]; by += [0, 0.29, None]
add(go.Scatter(x=bx, y=by, mode="lines", line=dict(color="rgba(0,0,0,0.12)", width=1.5)), 12)
add(go.Scatter(x=hx, y=hy, mode="lines", line=dict(color="black", width=1.5)), 12)
add(go.Scatter(x=metric_rank, y=metric_val, mode="lines", line=dict(width=0), fill="tozeroy", fillcolor="#BEBEBE"), 13)
D(13, 3460, 1.74, "<b>RSV_H</b>", 24, color="#DD6A0F"); D(13, 33925, -1.54, "<b>CKD</b>", 24, color="#7B2FB0")
T(2701, 1684, "<b>mapk signaling pathway</b>", 56)
T(2714.5, 1752, "P Value = 0.003407155; FDR Value = 0.032792084", 28.4)
T(2172, 1968.5, "<b>Running Enrichment Score</b>", 28, angle=-90)
T(2172, 2412, "<b>Ranked List Metric</b>", 28.5, angle=-90)
T(2714.5, 2601, "<b>Rank in Ordered Dataset</b>", 28)

# ---------- Panel letters ----------
for s, x, y in [("A", 51, 103), ("B", 1110, 103), ("C", 1012, 902), ("D", 1637, 902), ("E", 2251, 902), ("F", 91, 1012), ("G", 1034, 1614), ("H", 2218, 1614)]:
    T(x, y, s, 78)

fig.update_layout(width=W, height=H, margin=dict(l=0, r=0, t=0, b=0), autosize=False, paper_bgcolor="white", plot_bgcolor="white",
                  font=dict(family=FONT, color="black"), showlegend=False, annotations=annots, shapes=shapes, **layout)
fig.write_html("out.html", config={"displayModeBar": False}, post_script="document.body.style.margin='0';")
